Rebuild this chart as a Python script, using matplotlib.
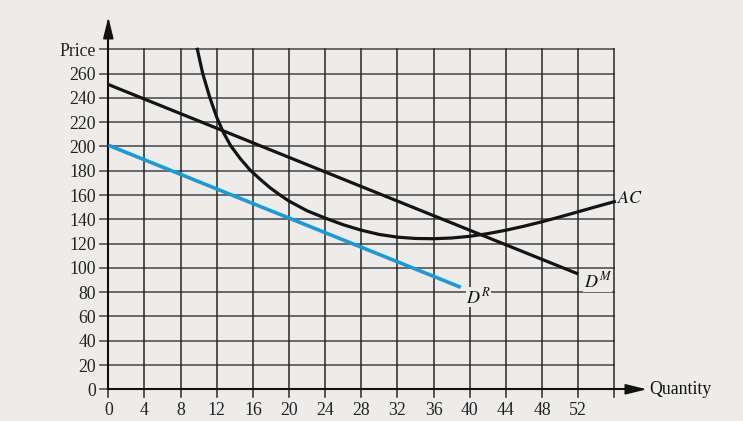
import matplotlib
matplotlib.use("Agg")
import matplotlib.pyplot as plt

plt.rcParams['font.family'] = ['Liberation Serif', 'DejaVu Serif']
plt.rcParams['mathtext.fontset'] = 'stix'

# Data
q_ticks = list(range(0, 56, 4))
q_grid = list(range(0, 57, 4))
p_ticks = list(range(0, 281, 20))
p_labels = [str(v) for v in range(0, 261, 20)] + ["Price"]

dm_q = [0, 52]
dm_p = [251, 95]
dr_q = [0, 39]
dr_p = [201, 84]
ac_q = [9.85, 10.45, 11.2, 12.0, 12.7, 13.55, 14.6, 15.7, 16.8, 17.9, 19, 20, 22, 24, 26, 28,
        30, 32, 34, 36, 38, 40, 42, 44, 46, 48, 50, 52, 54, 56]
ac_p = [280, 260, 241, 224, 212, 200.5, 190, 180.5, 173, 166, 160, 155, 147, 141, 135.5, 131,
        127.5, 125.3, 124.2, 124, 124.6, 126, 128.2, 131, 134.3, 138, 142, 146.2, 150.4, 154.5]

bg = '#edecea'
fig = plt.figure(figsize=(7.43, 4.21), dpi=100, facecolor=bg)
ax = fig.add_axes([0.1458, 0.0753, 0.681, 0.8076])
ax.set_facecolor(bg)
ax.set_xlim(0, 56)
ax.set_ylim(0, 280)
for s in ax.spines.values():
    s.set_visible(False)

for y in p_ticks:
    ax.plot([-0.9, 56], [y, y], color='#5e5e5e', lw=1.3, clip_on=False, zorder=1)
for x in q_grid:
    ax.plot([x, x], [-6, 280], color='#262626', lw=1.1, clip_on=False, zorder=1)

ax.set_xticks(q_ticks)
ax.set_xticklabels([str(v) for v in q_ticks])
ax.set_yticks(p_ticks)
ax.set_yticklabels(p_labels)
ax.tick_params(length=0, labelsize=12.8, colors='#222222', pad=9)
ax.tick_params(axis='x', pad=9)

arrow_kw = dict(arrowstyle='-|>,head_width=0.32,head_length=1.3',
                color='#111111', lw=1.2, shrinkA=0, shrinkB=0)
# axes arrows
ax.plot([0, 0], [0, 295], color='#111111', lw=1.5, clip_on=False, zorder=3)
ax.annotate('', xy=(0, 306.5), xytext=(0, 292), xycoords='data',
            arrowprops=arrow_kw, annotation_clip=False)
ax.plot([0, 58], [0, 0], color='#111111', lw=1.5, clip_on=False, zorder=3)
ax.annotate('', xy=(59.6, 0), xytext=(57.5, 0), xycoords='data',
            arrowprops=arrow_kw, annotation_clip=False)
ax.text(59.9, 0, 'Quantity', fontsize=12.8, va='center', ha='left', color='#111111',
        clip_on=False)

ax.plot(dm_q, dm_p, color='#141414', lw=2.3, zorder=4, solid_capstyle='butt')
ax.plot(dr_q, dr_p, color='#1b9ad6', lw=2.6, zorder=4, solid_capstyle='butt')
ax.plot(ac_q, ac_p, color='#141414', lw=2.3, zorder=4, clip_on=False,
        solid_joinstyle='round')

box = dict(facecolor=bg, edgecolor='none', pad=0.2)
ax.text(56.3, 157, r'$AC$', fontsize=13, ha='left', va='center', color='#111111')
ax.text(52.6, 89, r'$D^{M}$', fontsize=13, ha='left', va='center', color='#111111', bbox=box, zorder=5)
ax.text(39.6, 76, r'$D^{R}$', fontsize=13, ha='left', va='center', color='#111111', bbox=box, zorder=5)

fig.savefig('out.png', dpi=100, facecolor=bg)
